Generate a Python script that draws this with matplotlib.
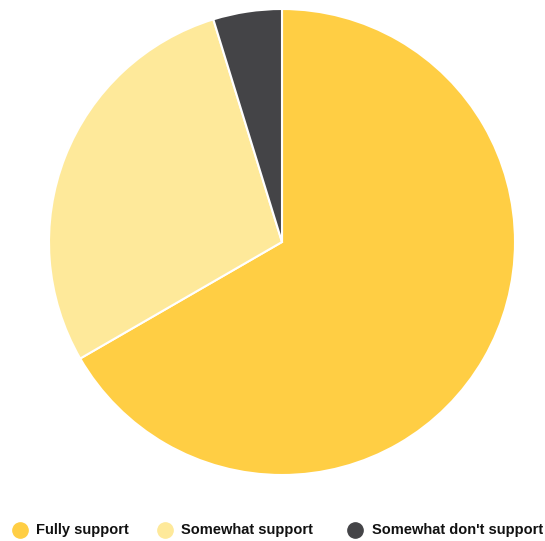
import matplotlib
matplotlib.use("Agg")
import matplotlib.pyplot as plt

labels = ["Fully support", "Somewhat support", "Somewhat don't support"]
counts = [14, 6, 1]
colors = ["#FFCE44", "#FEE99A", "#444447"]

W, H = 545, 541
fig = plt.figure(figsize=(W / 100, H / 100), dpi=100)

cx, cy, r = 282, 242, 233
ax = fig.add_axes([(cx - r) / W, (H - cy - r) / H, 2 * r / W, 2 * r / H])
ax.pie(counts, colors=colors, startangle=90, counterclock=False,
       wedgeprops=dict(edgecolor="white", linewidth=1.5))
ax.set_xlim(-1, 1)
ax.set_ylim(-1, 1)
ax.set_aspect("equal")
ax.axis("off")

# legend row
marker_x = [20, 165, 355]
text_x = [36, 181, 372]
ly = 530
for mx, tx, lab, col in zip(marker_x, text_x, labels, colors):
    fig.add_artist(plt.Line2D([mx / W], [1 - ly / H], marker="o", markersize=11,
                              color=col, linestyle="none", transform=fig.transFigure))
    fig.text(tx / W, 1 - ly / H, lab, ha="left", va="center", fontsize=10.5,
             fontweight="bold", family="Liberation Sans", color="#111111")

fig.savefig("out.png", dpi=100)
